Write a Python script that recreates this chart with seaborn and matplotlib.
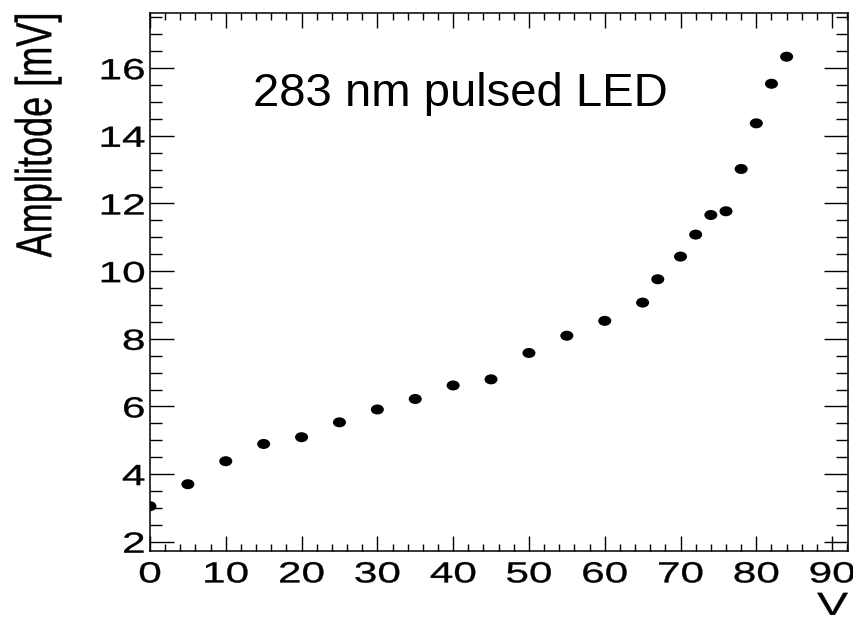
import numpy as np
import pandas as pd
import matplotlib
matplotlib.use("Agg")
import matplotlib.pyplot as plt
import seaborn as sns
from matplotlib.patheffects import AbstractPathEffect
from matplotlib.transforms import Affine2D
from matplotlib.path import Path
from matplotlib.markers import MarkerStyle
from matplotlib.ticker import MultipleLocator

# ---- data ----
voltage = [0, 5, 10, 15, 20, 25, 30, 35, 40, 45, 50, 55, 60,
           65, 67, 70, 72, 74, 76, 78, 80, 82, 84]
amplitude = [3.05, 3.70, 4.38, 4.89, 5.09, 5.53, 5.91, 6.22, 6.62, 6.80,
             7.58, 8.09, 8.53, 9.07, 9.76, 10.43, 11.08, 11.66, 11.77,
             13.02, 14.37, 15.54, 16.34]
x_ticks = [0, 10, 20, 30, 40, 50, 60, 70, 80, 90]
y_ticks = [2, 4, 6, 8, 10, 12, 14, 16]
x_label = "V"
y_label = "Amplitode [mV]"
annotation = "283 nm pulsed LED"

df = pd.DataFrame({"V": voltage, "A": amplitude})

sns.set_theme(style="ticks")
plt.rcParams["font.family"] = ["Liberation Sans", "DejaVu Sans"]
plt.rcParams["axes.linewidth"] = 1.1


class HStretch(AbstractPathEffect):
    """Stretch text glyphs horizontally (ROOT-style wide axis fonts)."""

    def __init__(self, sx=1.48, anchor="center", stroke=0.25):
        super().__init__((0, 0))
        self.sx = sx
        self.anchor = anchor
        self.stroke = stroke

    def draw_path(self, renderer, gc, tpath, affine, rgbFace=None):
        ext = tpath.get_extents(affine)
        if self.anchor == "right":
            cx = ext.x1
        elif self.anchor == "left":
            cx = ext.x0
        else:
            cx = 0.5 * (ext.x0 + ext.x1)
        t = affine + Affine2D().translate(-cx, 0).scale(self.sx, 1).translate(cx, 0)
        gc0 = renderer.new_gc()
        gc0.copy_properties(gc)
        if rgbFace is not None:
            gc0.set_foreground(rgbFace)
        gc0.set_linewidth(self.stroke)
        renderer.draw_path(gc0, tpath, t, rgbFace)
        gc0.restore()


fig = plt.figure(figsize=(8.54, 6.21), dpi=100)
ax = fig.add_axes([0.1756, 0.1132, 0.8174, 0.8663])

circ = Path.unit_circle()
ell = Path(circ.vertices * np.array([1.3, 1.0]), circ.codes)
sns.scatterplot(data=df, x="V", y="A", ax=ax, marker=MarkerStyle(ell), s=88,
                color="black", edgecolor="none", linewidth=0, legend=False)

ax.set_xlim(0, 92.1)
ax.set_ylim(1.734, 17.64)
ax.set_xticks(x_ticks)
ax.set_yticks(y_ticks)
ax.xaxis.set_minor_locator(MultipleLocator(2))
ax.yaxis.set_minor_locator(MultipleLocator(0.5))

ax.tick_params(axis="x", which="major", direction="in", length=10.8, width=1.0,
               top=True, bottom=True, labelsize=21, pad=7.0, colors="black")
ax.tick_params(axis="x", which="minor", direction="in", length=5.0, width=1.0,
               top=True, bottom=True, colors="black")
ax.tick_params(axis="y", which="major", direction="in", length=17, width=1.0,
               left=True, right=True, labelsize=21, pad=3.6, colors="black")
ax.tick_params(axis="y", which="minor", direction="in", length=8.5, width=1.0,
               left=True, right=True, colors="black")
for s in ax.spines.values():
    s.set_color("black")
    s.set_visible(True)

ax.set_xlabel(x_label, fontsize=23, loc="right", color="black")
ax.xaxis.set_label_coords(1.0, -0.0765)
ax.set_ylabel(y_label, fontsize=26, loc="top", color="black")
ax.yaxis.set_label_coords(-0.1354, 1.0)

ax.text(0.1476, 0.8266, annotation, transform=ax.transAxes, fontsize=34,
        ha="left", va="baseline", color="black")

fig.canvas.draw()
for t in ax.xaxis.get_major_ticks():
    t.label1.set_path_effects([HStretch(1.45, "center")])
for t in ax.yaxis.get_major_ticks():
    t.label1.set_path_effects([HStretch(1.45, "right")])
ax.xaxis.label.set_path_effects([HStretch(1.45, "right")])
ax.yaxis.label.set_path_effects([HStretch(1.4, "center")])

fig.savefig("out.png", dpi=100)
